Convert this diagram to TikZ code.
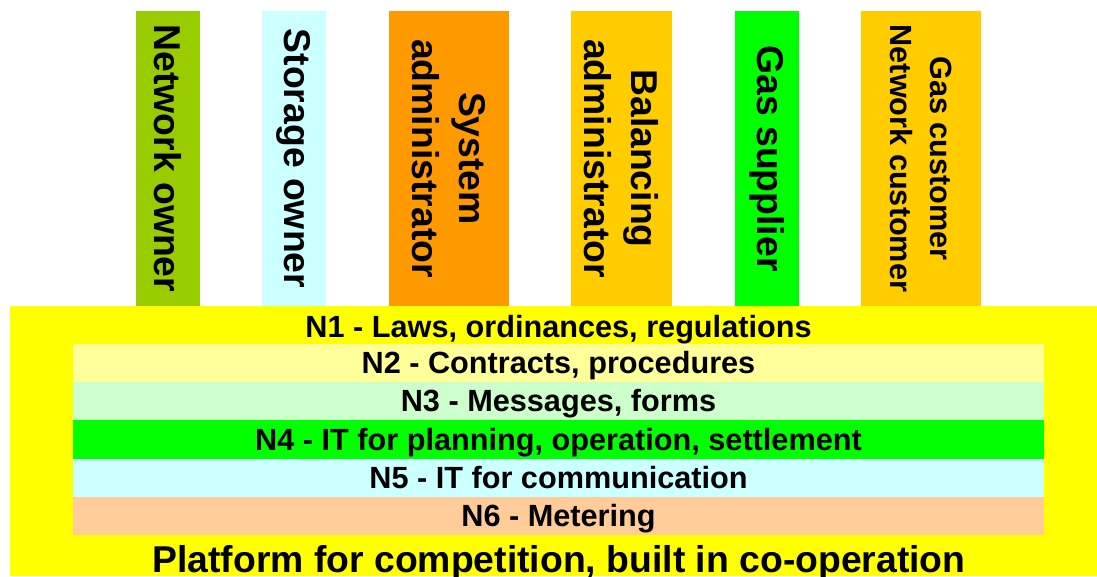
\documentclass[tikz,border=0pt]{standalone}
\usepackage{fontspec}
\setmainfont{Liberation Sans}
\definecolor{cNO}{HTML}{99CC00}
\definecolor{cSO}{HTML}{CCFFFF}
\definecolor{cSA}{HTML}{FF9900}
\definecolor{cBA}{HTML}{FFCC00}
\definecolor{cGS}{HTML}{00FF00}
\definecolor{cGC}{HTML}{FFCC00}
\definecolor{cYel}{HTML}{FFFF00}
\definecolor{cN2}{HTML}{FFFF99}
\definecolor{cN3}{HTML}{CCFFCC}
\definecolor{cN4}{HTML}{00FF00}
\definecolor{cN5}{HTML}{CCFFFF}
\definecolor{cN6}{HTML}{FFCC99}
\begin{document}
\begin{tikzpicture}[x=0.75pt,y=-0.75pt,
  col/.style={rotate=-90, inner sep=0pt, outer sep=0pt, minimum width=221.25pt, align=center, font=\bfseries\fontsize{28}{35}\selectfont},
  layer/.style={inner sep=0pt, outer sep=0pt, minimum width=728.25pt, minimum height=28.8pt, text height=17pt, text depth=1.1pt, font=\bfseries\fontsize{23}{28}\selectfont},
  plain/.style={inner sep=0pt, outer sep=0pt, anchor=base},
  ]
\useasboundingbox (0,0) rectangle (1097,576);
% platform
\node[inner sep=0pt, outer sep=0pt, fill=cYel, minimum width=815.25pt, minimum height=202.5pt] (plat) at (553.5,441) {};
% columns
\node[col, fill=cNO, minimum height=48pt] (no) at (168,158.5) {Network owner};
\node[col, fill=cSO, minimum height=48pt] (so) at (294,158.5) {Storage owner};
\node[col, fill=cSA, minimum height=90pt] (sa) at (449,158.5) {System\\administrator};
\node[col, fill=cBA, minimum height=75.75pt] (ba) at (621.5,158.5) {Balancing\\administrator};
\node[col, fill=cGS, minimum height=48pt] (gs) at (767,158.5) {Gas supplier};
\node[col, fill=cGC, minimum height=90pt, font=\bfseries\fontsize{23}{30}\selectfont] (gc) at (921,158.5) {Gas customer\\Network customer};
% layers
\node[plain, font=\bfseries\fontsize{23}{28}\selectfont] (n1) at (558.5,337) {N1 - Laws, ordinances, regulations};
\node[layer, fill=cN2] (n2) at (558.5,363.1) {N2 - Contracts, procedures};
\node[layer, fill=cN3] (n3) at (558.5,401.3) {N3 - Messages, forms};
\node[layer, fill=cN4] (n4) at (558.5,439.5) {N4 - IT for planning, operation, settlement};
\node[layer, fill=cN5] (n5) at (558.5,477.7) {N5 - IT for communication};
\node[layer, fill=cN6] (n6) at (558.5,515.9) {N6 - Metering};
\node[plain, font=\bfseries\fontsize{28}{34}\selectfont] (ptext) at (559,572) {Platform for competition, built in co-operation};
\end{tikzpicture}
\end{document}
